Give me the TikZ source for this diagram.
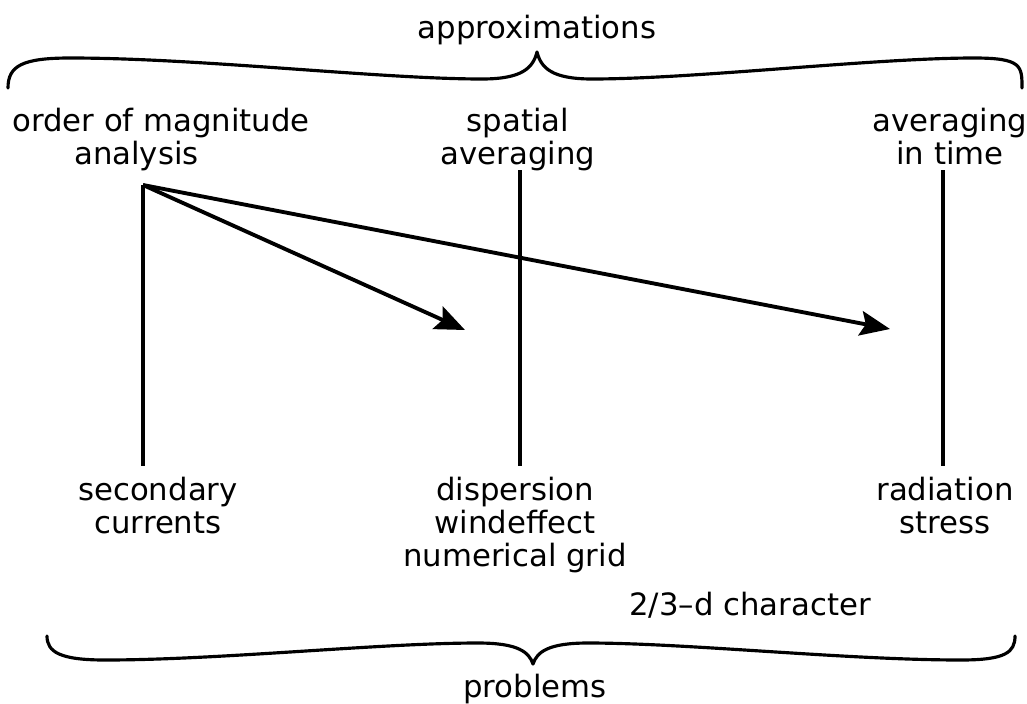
\documentclass[tikz,border=0pt]{standalone}
\usepackage{fontspec}
\setmainfont{DejaVu Sans}
\usetikzlibrary{arrows.meta}
\tikzset{
  lettering/.style={font=\fontsize{17.5}{18.8}\selectfont,inner sep=0pt,align=center},
  link/.style={draw=black,line width=2.2pt},
  pointer/.style={link,-{Stealth[length=17pt,width=14pt,inset=3pt]}},
  curlybrace/.style={draw=black,line width=1.8pt,line cap=round,line join=round}
}
\begin{document}
\begin{tikzpicture}[x=0.02cm,y=-0.02cm]
  \useasboundingbox (0,0) rectangle (1027,703);
  % headings and captions
  \node[lettering,anchor=base] (approx) at (537,38) {approximations};
  \node[lettering,anchor=north,align=left] (magn) at (161,108) {order of magnitude\\\hspace*{1.24cm}analysis};
  \node[lettering,anchor=north] (spat) at (518,108) {spatial\\averaging};
  \node[lettering,anchor=north] (avtime) at (950,108) {averaging\\in time};
  \node[lettering,anchor=north] (second) at (158,477) {secondary\\currents};
  \node[lettering,anchor=north] (disp) at (515,477) {dispersion\\windeffect\\numerical grid};
  \node[lettering,anchor=north] (radia) at (945,477) {radiation\\stress};
  \node[lettering,anchor=base] (char) at (750,615) {2/3--d character};
  \node[lettering,anchor=base] (probl) at (535,697) {problems};
  % line ends
  \coordinate (hub) at (143,185);
  \coordinate (hubend) at (143,466);
  \coordinate (spattop) at (520,170);
  \coordinate (spatend) at (520,466);
  \coordinate (timetop) at (943,170);
  \coordinate (timeend) at (943,466);
  \coordinate (tipmid) at (465,330);
  \coordinate (tipright) at (890,329);
  \draw[link] (hub) -- (hubend);
  \draw[link] (spattop) -- (spatend);
  \draw[link] (timetop) -- (timeend);
  \draw[pointer] (hub) -- (tipmid);
  \draw[pointer] (hub) -- (tipright);
  % braces
  \draw[curlybrace] (8,88) .. controls (8,66) and (22,58) .. (70,58)
    .. controls (200,58) and (380,79) .. (482,79)
    .. controls (522,79) and (533,68) .. (537,52)
    .. controls (541,68) and (552,79) .. (592,79)
    .. controls (694,79) and (874,58) .. (974,58)
    .. controls (1022,58) and (1022,66) .. (1022,88);
  \draw[curlybrace] (47,636) .. controls (47,652) and (60,660) .. (105,660)
    .. controls (220,660) and (380,643) .. (478,643)
    .. controls (518,643) and (529,652) .. (533,664)
    .. controls (537,652) and (548,643) .. (588,643)
    .. controls (686,643) and (846,660) .. (961,660)
    .. controls (1006,660) and (1015,652) .. (1015,636);
\end{tikzpicture}
\end{document}
